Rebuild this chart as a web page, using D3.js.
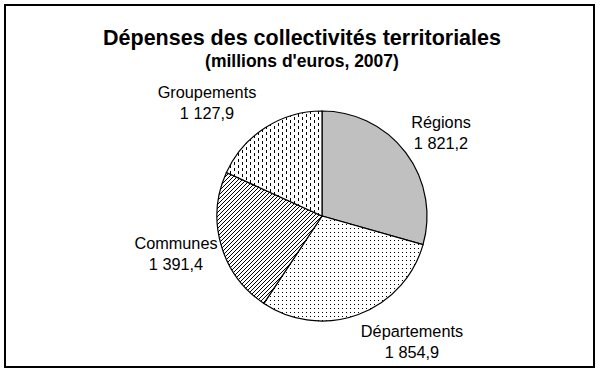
<!DOCTYPE html>
<html>
<head>
<meta charset="utf-8">
<script src="https://cdn.jsdelivr.net/npm/d3@7"></script>
<style>
  body { margin: 0; background: #fff; }
  svg { display: block; }
  text { font-family: "Liberation Sans", Arial, sans-serif; fill: #000; }
</style>
</head>
<body>
<svg id="chart"></svg>
<script>
const categories = ["Régions", "Départements", "Communes", "Groupements"];
const values = [1821.2, 1854.9, 1391.4, 1127.9];
const valueLabels = ["1 821,2", "1 854,9", "1 391,4", "1 127,9"];
const fills = ["#c0c0c0", "url(#dots)", "url(#hatch)", "url(#dashes)"];
// label anchors (first line baseline), in pixels
const labelPos = [[441, 128], [412, 337], [176, 249], [207, 98]];

const width = 600;
const height = 373;
const cx = 322, cy = 216, radius = 105;

const svg = d3.select("#chart")
    .attr("width", width)
    .attr("height", height);

const defs = svg.append("defs");

function pattern(id, w, h, cells) {
    const p = defs.append("pattern")
        .attr("id", id)
        .attr("patternUnits", "userSpaceOnUse")
        .attr("width", w)
        .attr("height", h);
    p.append("rect").attr("width", w).attr("height", h).attr("fill", "#fff");
    cells.forEach(c => {
        p.append("rect")
            .attr("x", c[0]).attr("y", c[1])
            .attr("width", c[2] || 1).attr("height", c[3] || 1)
            .attr("fill", "#000");
    });
}

pattern("dots", 4, 4, [[0, 0]]);
pattern("hatch", 4, 4, [[3, 0], [2, 1], [1, 2], [0, 3]]);
pattern("dashes", 8, 6, [[0, 0, 1, 3], [4, 3, 1, 3]]);

svg.append("rect")
    .attr("x", 5).attr("y", 5)
    .attr("width", 589).attr("height", 362)
    .attr("fill", "none")
    .attr("stroke", "#000")
    .attr("stroke-width", 2);

svg.append("text")
    .attr("x", 302).attr("y", 45)
    .attr("text-anchor", "middle")
    .style("font-size", "21.5px")
    .style("font-weight", "bold")
    .text("Dépenses des collectivités territoriales");

svg.append("text")
    .attr("x", 302).attr("y", 67)
    .attr("text-anchor", "middle")
    .style("font-size", "17.5px")
    .style("font-weight", "bold")
    .text("(millions d'euros, 2007)");

const data = categories.map((c, i) => ({ name: c, value: values[i], label: valueLabels[i], fill: fills[i], pos: labelPos[i] }));

const pie = d3.pie()
    .sort(null)
    .value(d => d.value);

const arc = d3.arc()
    .innerRadius(0)
    .outerRadius(radius);

const body = svg.append("g")
    .attr("transform", `translate(${cx},${cy})`);

body.selectAll("path")
    .data(pie(data))
    .enter()
    .append("path")
    .attr("d", arc)
    .attr("fill", d => d.data.fill)
    .attr("stroke", "#000")
    .attr("stroke-width", 1.2);

const labels = svg.selectAll(".lbl")
    .data(data)
    .enter()
    .append("text")
    .attr("class", "lbl")
    .attr("text-anchor", "middle")
    .style("font-size", "16.3px");

labels.append("tspan")
    .attr("x", d => d.pos[0])
    .attr("y", d => d.pos[1])
    .text(d => d.name);

labels.append("tspan")
    .attr("x", d => d.pos[0])
    .attr("y", d => d.pos[1] + 21)
    .text(d => d.label);
</script>
</body>
</html>
